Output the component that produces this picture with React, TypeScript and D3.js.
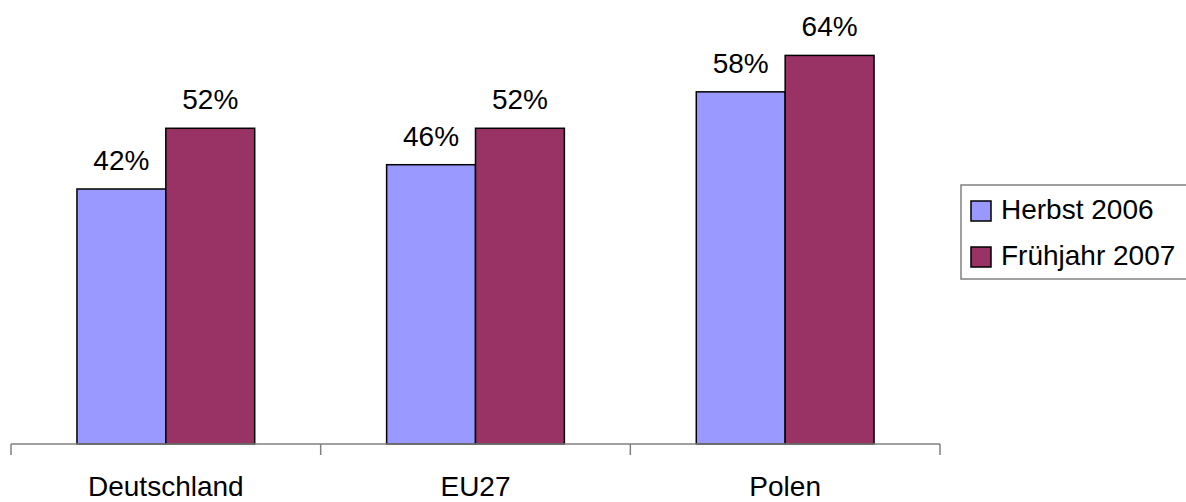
import React from "react";
import * as d3 from "d3";

const categories = ["Deutschland", "EU27", "Polen"];
const seriesNames = ["Herbst 2006", "Frühjahr 2007"];
const herbst2006 = [42, 46, 58];
const fruehjahr2007 = [52, 52, 64];
const seriesValues = [herbst2006, fruehjahr2007];
const seriesColors = ["#9999FF", "#993366"];

const W = 1186;
const H = 502;
const FONT = "'Liberation Sans', Arial, sans-serif";

export default function App() {
  const x = d3.scaleBand<string>().domain(categories).range([11, 940]).padding(0);
  const step = x.bandwidth();
  const inner = d3
    .scaleBand<string>()
    .domain(seriesNames)
    .range([step * 0.213, step * 0.787])
    .padding(0);
  const y = d3.scaleLinear().domain([0, 70]).range([444, 19]);
  const baseY = y(0);

  return (
    <svg
      width={W}
      height={H}
      style={{ position: "fixed", left: 0, top: 0, background: "#fff" }}
      fontFamily={FONT}
    >
      <rect x={0} y={0} width={W} height={H} fill="#fff" />
      {seriesNames.map((s, si) =>
        categories.map((c, ci) => {
          const v = seriesValues[si][ci];
          const bx = (x(c) as number) + (inner(s) as number);
          const bw = inner.bandwidth();
          return (
            <g key={s + c}>
              <rect
                x={bx}
                y={y(v)}
                width={bw}
                height={baseY - y(v)}
                fill={seriesColors[si]}
                stroke="#000"
                strokeWidth={1.5}
              />
              <text
                x={bx + bw / 2}
                y={y(v) - 19}
                textAnchor="middle"
                fontSize={28}
                fill="#000"
              >
                {v}%
              </text>
            </g>
          );
        })
      )}
      <line x1={11} x2={940} y1={baseY} y2={baseY} stroke="#808080" strokeWidth={1.5} />
      {[...categories.map((c) => x(c) as number), 940].map((tx, i) => (
        <line key={i} x1={tx} x2={tx} y1={baseY} y2={baseY + 11} stroke="#808080" strokeWidth={1.5} />
      ))}
      {categories.map((c) => (
        <text
          key={c}
          x={(x(c) as number) + step / 2}
          y={496}
          textAnchor="middle"
          fontSize={28}
          fill="#000"
        >
          {c}
        </text>
      ))}
      <rect x={961} y={185} width={240} height={94} fill="#fff" stroke="#808080" strokeWidth={1.5} />
      {seriesNames.map((s, i) => (
        <g key={s}>
          <rect
            x={971}
            y={201 + i * 46}
            width={20}
            height={20}
            fill={seriesColors[i]}
            stroke="#000"
            strokeWidth={1.5}
          />
          <text x={1001} y={219 + i * 46} fontSize={28} fill="#000">
            {s}
          </text>
        </g>
      ))}
    </svg>
  );
}
